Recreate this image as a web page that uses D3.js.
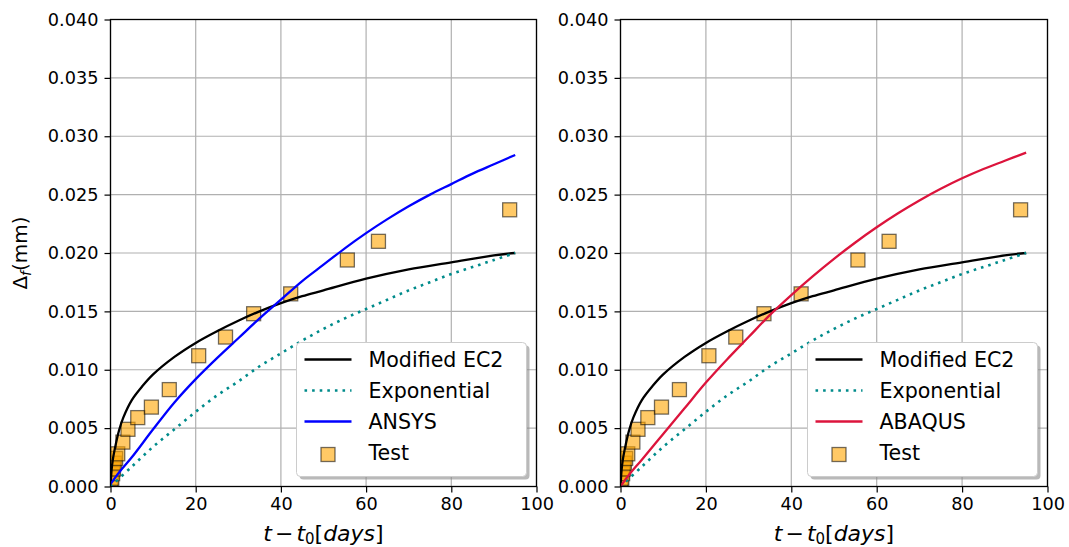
<!DOCTYPE html>
<html><head><meta charset="utf-8">
<script src="https://cdn.jsdelivr.net/npm/d3@7"></script>
<style>
html,body{margin:0;padding:0;background:#fff;}
svg text{font-family:"DejaVu Sans",sans-serif;}
</style></head>
<body><svg id="c" width="1069" height="547"></svg>
<script>
// ---- data ----
const xTicks = [0, 20, 40, 60, 80, 100];
const yTicks = [0, 0.005, 0.010, 0.015, 0.020, 0.025, 0.030, 0.035, 0.040];

const testT = [0.1, 0.3, 0.5, 0.7, 0.9, 1.2, 1.7, 2.9, 4.1, 6.4, 9.6, 13.8, 20.7, 27.0, 33.6, 42.3, 55.6, 62.9, 93.7];
const testV = [0.0003, 0.0007, 0.0011, 0.0015, 0.0020, 0.0024, 0.0028, 0.0038, 0.0049, 0.0059, 0.0068, 0.0083, 0.0112, 0.0128, 0.0148, 0.0165, 0.0194, 0.0210, 0.0237];

const ec2T = [0, 0.25, 0.5, 1, 2, 3, 5, 7.5, 10, 15, 20, 25, 30, 35, 40, 45, 50, 60, 70, 80, 90, 95];
const ec2V = [0, 0.0014, 0.0022, 0.0032, 0.0048, 0.0059, 0.0074, 0.0086, 0.0096, 0.0111, 0.0123, 0.0133, 0.0142, 0.0150, 0.0157, 0.0163, 0.0168, 0.0178, 0.0186, 0.0192, 0.0198, 0.0200];

const expT = [0, 5, 10, 15, 20, 25, 30, 35, 40, 45, 50, 55, 60, 65, 70, 75, 80, 85, 90, 95];
const expV = [0, 0.0017, 0.0034, 0.0049, 0.0064, 0.0078, 0.0090, 0.0103, 0.0114, 0.0125, 0.0135, 0.0144, 0.0152, 0.0160, 0.0168, 0.0175, 0.0182, 0.0188, 0.0194, 0.0200];

const ansysT = [0, 2, 5, 10, 15, 20, 25, 30, 35, 40, 45, 50, 55, 60, 65, 70, 75, 80, 85, 90, 95];
const ansysV = [0.0002, 0.0012, 0.0025, 0.0049, 0.0072, 0.0092, 0.0110, 0.0127, 0.0144, 0.0160, 0.0176, 0.0190, 0.0204, 0.0217, 0.0229, 0.0240, 0.0250, 0.0259, 0.0268, 0.0276, 0.0284];

const abaqusT = [0, 2, 5, 10, 15, 20, 25, 30, 35, 40, 45, 50, 55, 60, 65, 70, 75, 80, 85, 90, 95];
const abaqusV = [0, 0.0010, 0.0023, 0.0045, 0.0067, 0.0089, 0.0109, 0.0128, 0.0147, 0.0164, 0.0180, 0.0195, 0.0209, 0.0222, 0.0234, 0.0245, 0.0255, 0.0264, 0.0272, 0.0279, 0.0286];

const panels = [
  {left: 110.5, right: 536.5, fem: "ANSYS", femT: ansysT, femV: ansysV, femColor: "#0000ff", ylabel: true},
  {left: 620.5, right: 1047.5, fem: "ABAQUS", femT: abaqusT, femV: abaqusV, femColor: "#dc143c", ylabel: false}
];

const yTop = 19.5, yBot = 486.5;
const svg = d3.select("#c");
const TEAL = "#008b8b";

function toPts(T, V){ return T.map((t,i)=>[t, V[i]]); }

panels.forEach(p => {
  const x = d3.scaleLinear().domain([0,100]).range([p.left, p.right]);
  const y = d3.scaleLinear().domain([0,0.04]).range([yBot, yTop]);
  const g = svg.append("g");

  // grid
  g.append("g").selectAll("line").data(xTicks).join("line")
    .attr("x1", d=>x(d)).attr("x2", d=>x(d)).attr("y1", yTop).attr("y2", yBot)
    .attr("stroke", "#b0b0b0").attr("stroke-width", 1.2);
  g.append("g").selectAll("line").data(yTicks).join("line")
    .attr("y1", d=>y(d)).attr("y2", d=>y(d)).attr("x1", p.left).attr("x2", p.right)
    .attr("stroke", "#b0b0b0").attr("stroke-width", 1.2);

  const clip = "clip" + p.fem;
  svg.append("clipPath").attr("id", clip).append("rect")
    .attr("x", p.left).attr("y", yTop).attr("width", p.right-p.left).attr("height", yBot-yTop);
  const plot = g.append("g").attr("clip-path", `url(#${clip})`);

  // test squares
  const S = 14;
  plot.append("g").selectAll("rect").data(toPts(testT, testV)).join("rect")
    .attr("x", d=>x(d[0])-S/2).attr("y", d=>y(d[1])-S/2).attr("width", S).attr("height", S)
    .attr("fill", "orange").attr("fill-opacity", 0.6)
    .attr("stroke", "#000").attr("stroke-opacity", 0.55).attr("stroke-width", 1.3);

  const line = d3.line().x(d=>x(d[0])).y(d=>y(d[1])).curve(d3.curveCatmullRom);
  plot.append("path").attr("d", line(toPts(ec2T, ec2V))).attr("fill","none")
    .attr("stroke","#000").attr("stroke-width",2.3);
  plot.append("path").attr("d", line(toPts(expT, expV))).attr("fill","none")
    .attr("stroke",TEAL).attr("stroke-width",2.6).attr("stroke-dasharray","2.6,5");
  plot.append("path").attr("d", line(toPts(p.femT, p.femV))).attr("fill","none")
    .attr("stroke",p.femColor).attr("stroke-width",2.3);

  // axes
  const xa = d3.axisBottom(x).tickValues(xTicks).tickSize(6).tickPadding(5).tickFormat(d3.format("d"));
  const ya = d3.axisLeft(y).tickValues(yTicks).tickSize(6).tickPadding(6).tickFormat(d3.format(".3f"));
  const gx = g.append("g").attr("transform", `translate(0,${yBot})`).call(xa);
  const gy = g.append("g").attr("transform", `translate(${p.left},0)`).call(ya);
  [gx, gy].forEach(a => {
    a.select(".domain").remove();
    a.selectAll(".tick line").attr("stroke","#000").attr("stroke-width",1.2);
    a.selectAll(".tick text").attr("fill","#000").style("font-size","17.7px").style("font-family","DejaVu Sans");
  });

  // spines
  g.append("rect").attr("x", p.left).attr("y", yTop).attr("width", p.right-p.left).attr("height", yBot-yTop)
    .attr("fill","none").attr("stroke","#000").attr("stroke-width",1.3);

  // x label
  const cx = (p.left + p.right)/2;
  const xl = g.append("text").attr("x", cx).attr("y", 541).attr("text-anchor","middle")
    .style("font-size","22px");
  xl.append("tspan").attr("font-style","italic").text("t");
  xl.append("tspan").attr("dx", 3).text("\u2212");
  xl.append("tspan").attr("dx", 3).attr("font-style","italic").text("t");
  xl.append("tspan").attr("dy", 3).style("font-size","15px").text("0");
  xl.append("tspan").attr("dy", -3).text("[");
  xl.append("tspan").attr("font-style","italic").text("days");
  xl.append("tspan").text("]");

  if (p.ylabel) {
    const yl = g.append("text").attr("transform", `translate(27,${(yTop+yBot)/2}) rotate(-90)`)
      .attr("text-anchor","middle").style("font-size","20px");
    yl.append("tspan").text("\u0394");
    yl.append("tspan").attr("dy", 4).attr("font-style","italic").style("font-size","14px").text("f");
    yl.append("tspan").attr("dy", -4).text("(mm)");
  }

  // legend
  const lw = 230, lh = 134;
  const lx = p.right - 10 - lw, ly = yBot - 10 - lh;
  const lg = g.append("g");
  lg.append("rect").attr("x", lx+3).attr("y", ly+3).attr("width", lw).attr("height", lh)
    .attr("rx",4).attr("fill","#8a8a8a").attr("fill-opacity",0.6);
  lg.append("rect").attr("x", lx).attr("y", ly).attr("width", lw).attr("height", lh)
    .attr("rx",4).attr("fill","#fff").attr("stroke","#cccccc").attr("stroke-width",1);
  const items = [
    {label:"Modified EC2", type:"line", color:"#000", dash:null, w:2.3},
    {label:"Exponential", type:"line", color:TEAL, dash:"2.6,5", w:2.6},
    {label:p.fem, type:"line", color:p.femColor, dash:null, w:2.3},
    {label:"Test", type:"sq"}
  ];
  items.forEach((it,i) => {
    const cy = ly + 17 + i*31;
    if (it.type === "line") {
      lg.append("line").attr("x1", lx+8).attr("x2", lx+55).attr("y1", cy).attr("y2", cy)
        .attr("stroke", it.color).attr("stroke-width", it.w).attr("stroke-dasharray", it.dash);
    } else {
      lg.append("rect").attr("x", lx+31.5-7).attr("y", cy+2-7).attr("width",14).attr("height",14)
        .attr("fill","orange").attr("fill-opacity",0.6)
        .attr("stroke","#000").attr("stroke-opacity",0.55).attr("stroke-width",1.3);
    }
    lg.append("text").attr("x", lx+72).attr("y", cy+7.5).style("font-size","20.6px")
      .attr("fill","#000").text(it.label);
  });
});
</script></body></html>
